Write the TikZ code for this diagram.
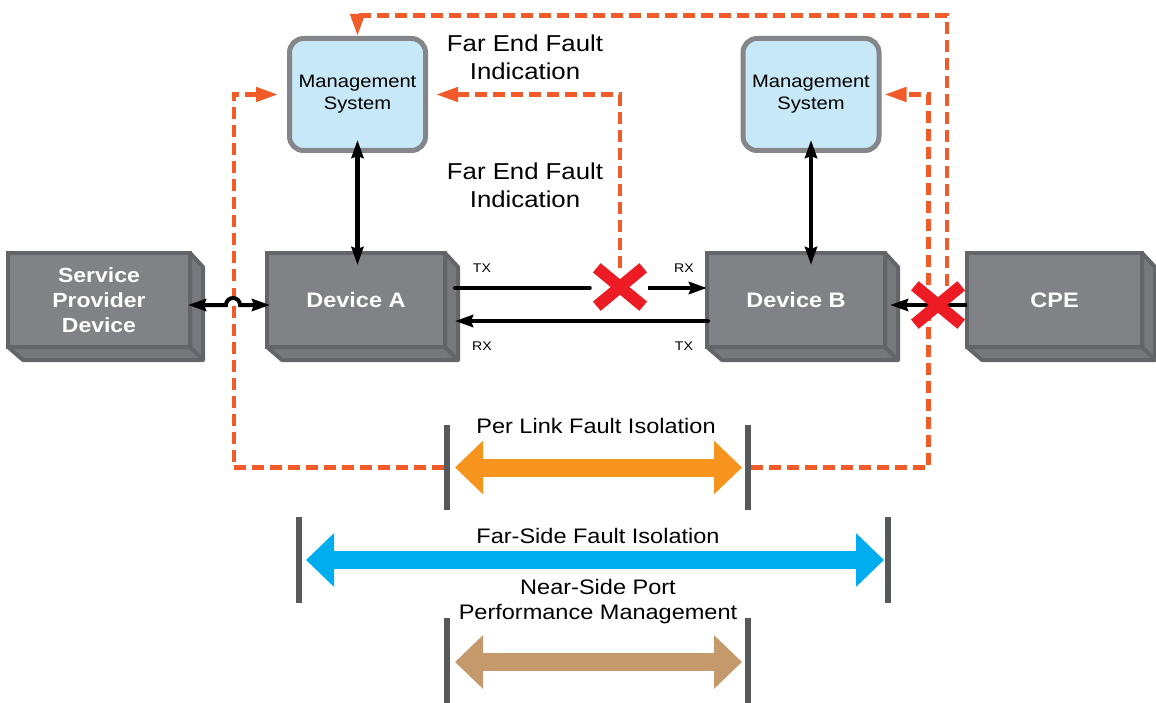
\documentclass[tikz,border=0pt]{standalone}
\usepackage{fontspec}
\setmainfont{Liberation Sans}[FakeStretch=1.12]
\usetikzlibrary{arrows.meta}
\definecolor{devgray}{HTML}{808285}
\definecolor{devside}{HTML}{77787B}
\definecolor{devedge}{HTML}{646568}
\definecolor{mgmtblue}{HTML}{C7E8F7}
\definecolor{mgmtedge}{HTML}{848689}
\definecolor{faultorange}{HTML}{F15A29}
\definecolor{xred}{HTML}{ED1C24}
\definecolor{linkorange}{HTML}{F7941D}
\definecolor{farblue}{HTML}{00AEEF}
\definecolor{neartan}{HTML}{C49A6C}
\definecolor{bargray}{HTML}{58595B}

\begin{document}
\begin{tikzpicture}[x=1pt,y=-1pt,
  dev/.style={fill=devgray,draw=devedge,line width=4pt,outer sep=0pt,inner sep=0pt,
    text=white,align=center,minimum height=94pt,font=\bfseries\fontsize{21}{25}\selectfont},
  mgmt/.style={fill=mgmtblue,draw=mgmtedge,line width=5pt,rounded corners=14pt,
    minimum width=136pt,minimum height=112pt,align=center,font=\fontsize{18}{22}\selectfont},
  lbl/.style={align=center,font=\fontsize{23}{28}\selectfont},
  port/.style={font=\fontsize{12.6}{14}\selectfont},
  spantxt/.style={align=center,font=\fontsize{21}{25}\selectfont},
  tip/.style={Stealth[length=18pt,width=12pt,inset=2pt]},
  blk/.style={line width=4pt,-{Stealth[length=18pt,width=12pt,inset=2pt]}},
  both/.style={line width=4.5pt,{Stealth[length=18pt,width=12pt,inset=2pt]}-{Stealth[length=18pt,width=12pt,inset=2pt]}},
  fault/.style={draw=faultorange,line width=4.5pt,dash pattern=on 12pt off 6pt,
    -{Triangle[length=22pt,width=14pt]}},
  cross/.style={draw=xred,line width=12pt},
  bar/.style={fill=bargray,minimum width=6pt,minimum height=86pt,inner sep=0pt,outer sep=0pt},
  span/.style={line width=18pt,{Triangle[length=28pt,width=52pt]}-{Triangle[length=28pt,width=52pt]}},
  ]
\useasboundingbox (0,0) rectangle (1156,703);

\node[mgmt] (mgmtA) at (357.5,94.5) {Management\\System};
\node[mgmt] (mgmtB) at (811,94.5) {Management\\System};

\node[lbl] (fefi1) at (525,57) {Far End Fault\\Indication};
\node[lbl] (fefi2) at (525,185) {Far End Fault\\Indication};

\node[minimum width=46pt,minimum height=38pt,inner sep=0pt] (xa) at (620,287) {};
\node[minimum width=46pt,minimum height=38pt,inner sep=0pt] (xb) at (938,305) {};

\node[bar,minimum height=85pt] (plL) at (447,467.5) {};
\node[bar,minimum height=85pt] (plR) at (748,467.5) {};
\node[bar] (fsL) at (299,560) {};
\node[bar] (fsR) at (888,560) {};
\node[bar,minimum height=85pt] (nsL) at (447,660.5) {};
\node[bar,minimum height=85pt] (nsR) at (748,660.5) {};

\draw[fault] ([xshift=9pt]xb.north) |- ([yshift=20.5pt]mgmtA.north) -- (mgmtA.north);
\draw[fault,shorten >=9pt] (plL.west) -| ([xshift=-53pt]mgmtA.west) -- (mgmtA.west);
\draw[fault,shorten >=8pt] (xa.north) |- (mgmtA.east);
\draw[fault,shorten >=3pt] (plR.east) -| ([xshift=47pt]mgmtB.east) -- (mgmtB.east);

\node[dev,minimum width=182pt,font=\bfseries\fontsize{20.5}{25}\selectfont] (spd) at (99,300) {Service\\Provider\\Device};
\node[dev,minimum width=178pt] (devA) at (356,300) {Device A};
\node[dev,minimum width=178pt] (devB) at (796,300) {Device B};
\node[dev,minimum width=175pt] (cpe) at (1054.5,300) {CPE};

\foreach \d in {spd,devA,devB,cpe}{
  \filldraw[fill=devside,draw=devedge,line width=4pt,line join=round]
    (\d.north east) -- ++(13,14) -- ([shift={(13,13)}]\d.south east)
    -- ([shift={(15,13)}]\d.south west) -- (\d.south west) -- (\d.south east) -- cycle;
  \draw[devedge,line width=4pt] (\d.south east) -- ++(13,13);
}

\draw[both,shorten <=-13pt,shorten >=-12pt] (mgmtA.south) -- (mgmtA.south |- devA.north);
\draw[both,shorten <=-13pt,shorten >=-12pt] (mgmtB.south) -- (mgmtB.south |- devB.north);

\draw[both,line width=4pt,shorten <=-2pt,shorten >=-3pt]
  ([yshift=-5pt]spd.east) -- (226,305) arc (180:360:7) -- ([yshift=-5pt]devA.west);

\coordinate (txA) at (455,288);
\coordinate (rxA) at (455,321);
\coordinate (rxB) at (707,288);
\coordinate (txB) at (708,321);

\draw[line width=4pt,line cap=round,shorten >=7pt] (txA) -- (xa.west |- txA);
\draw[blk,shorten <=5pt] (xa.east |- txA) -- (rxB);
\draw[blk,line cap=round] (txB) -- (rxA);
\draw[blk,shorten >=5pt] ([yshift=-5pt]cpe.west) -- ([yshift=-5pt]devB.east);

\draw[cross] (xa.north west) -- (xa.south east) (xa.north east) -- (xa.south west);
\draw[cross] (xb.north west) -- (xb.south east) (xb.north east) -- (xb.south west);

\node[port] (ltxA) at (482,268) {TX};
\node[port] (lrxB) at (684,268) {RX};
\node[port] (lrxA) at (482,346) {RX};
\node[port] (ltxB) at (684,346) {TX};

\node[spantxt] (pltxt) at (596,426) {Per Link Fault Isolation};
\node[spantxt] (fstxt) at (598,536) {Far-Side Fault Isolation};
\node[spantxt] (nstxt) at (598,602) {Near-Side Port\\Performance Management};

\draw[span,linkorange,shorten <=5pt,shorten >=3pt] (plL.east) -- (plR.west);
\draw[span,farblue,shorten <=4pt,shorten >=1pt] (fsL.east) -- (fsR.west);
\draw[span,neartan,shorten <=5pt,shorten >=3pt] ([yshift=-1.5pt]nsL.east) -- ([yshift=-1.5pt]nsR.west);
\end{tikzpicture}
\end{document}
